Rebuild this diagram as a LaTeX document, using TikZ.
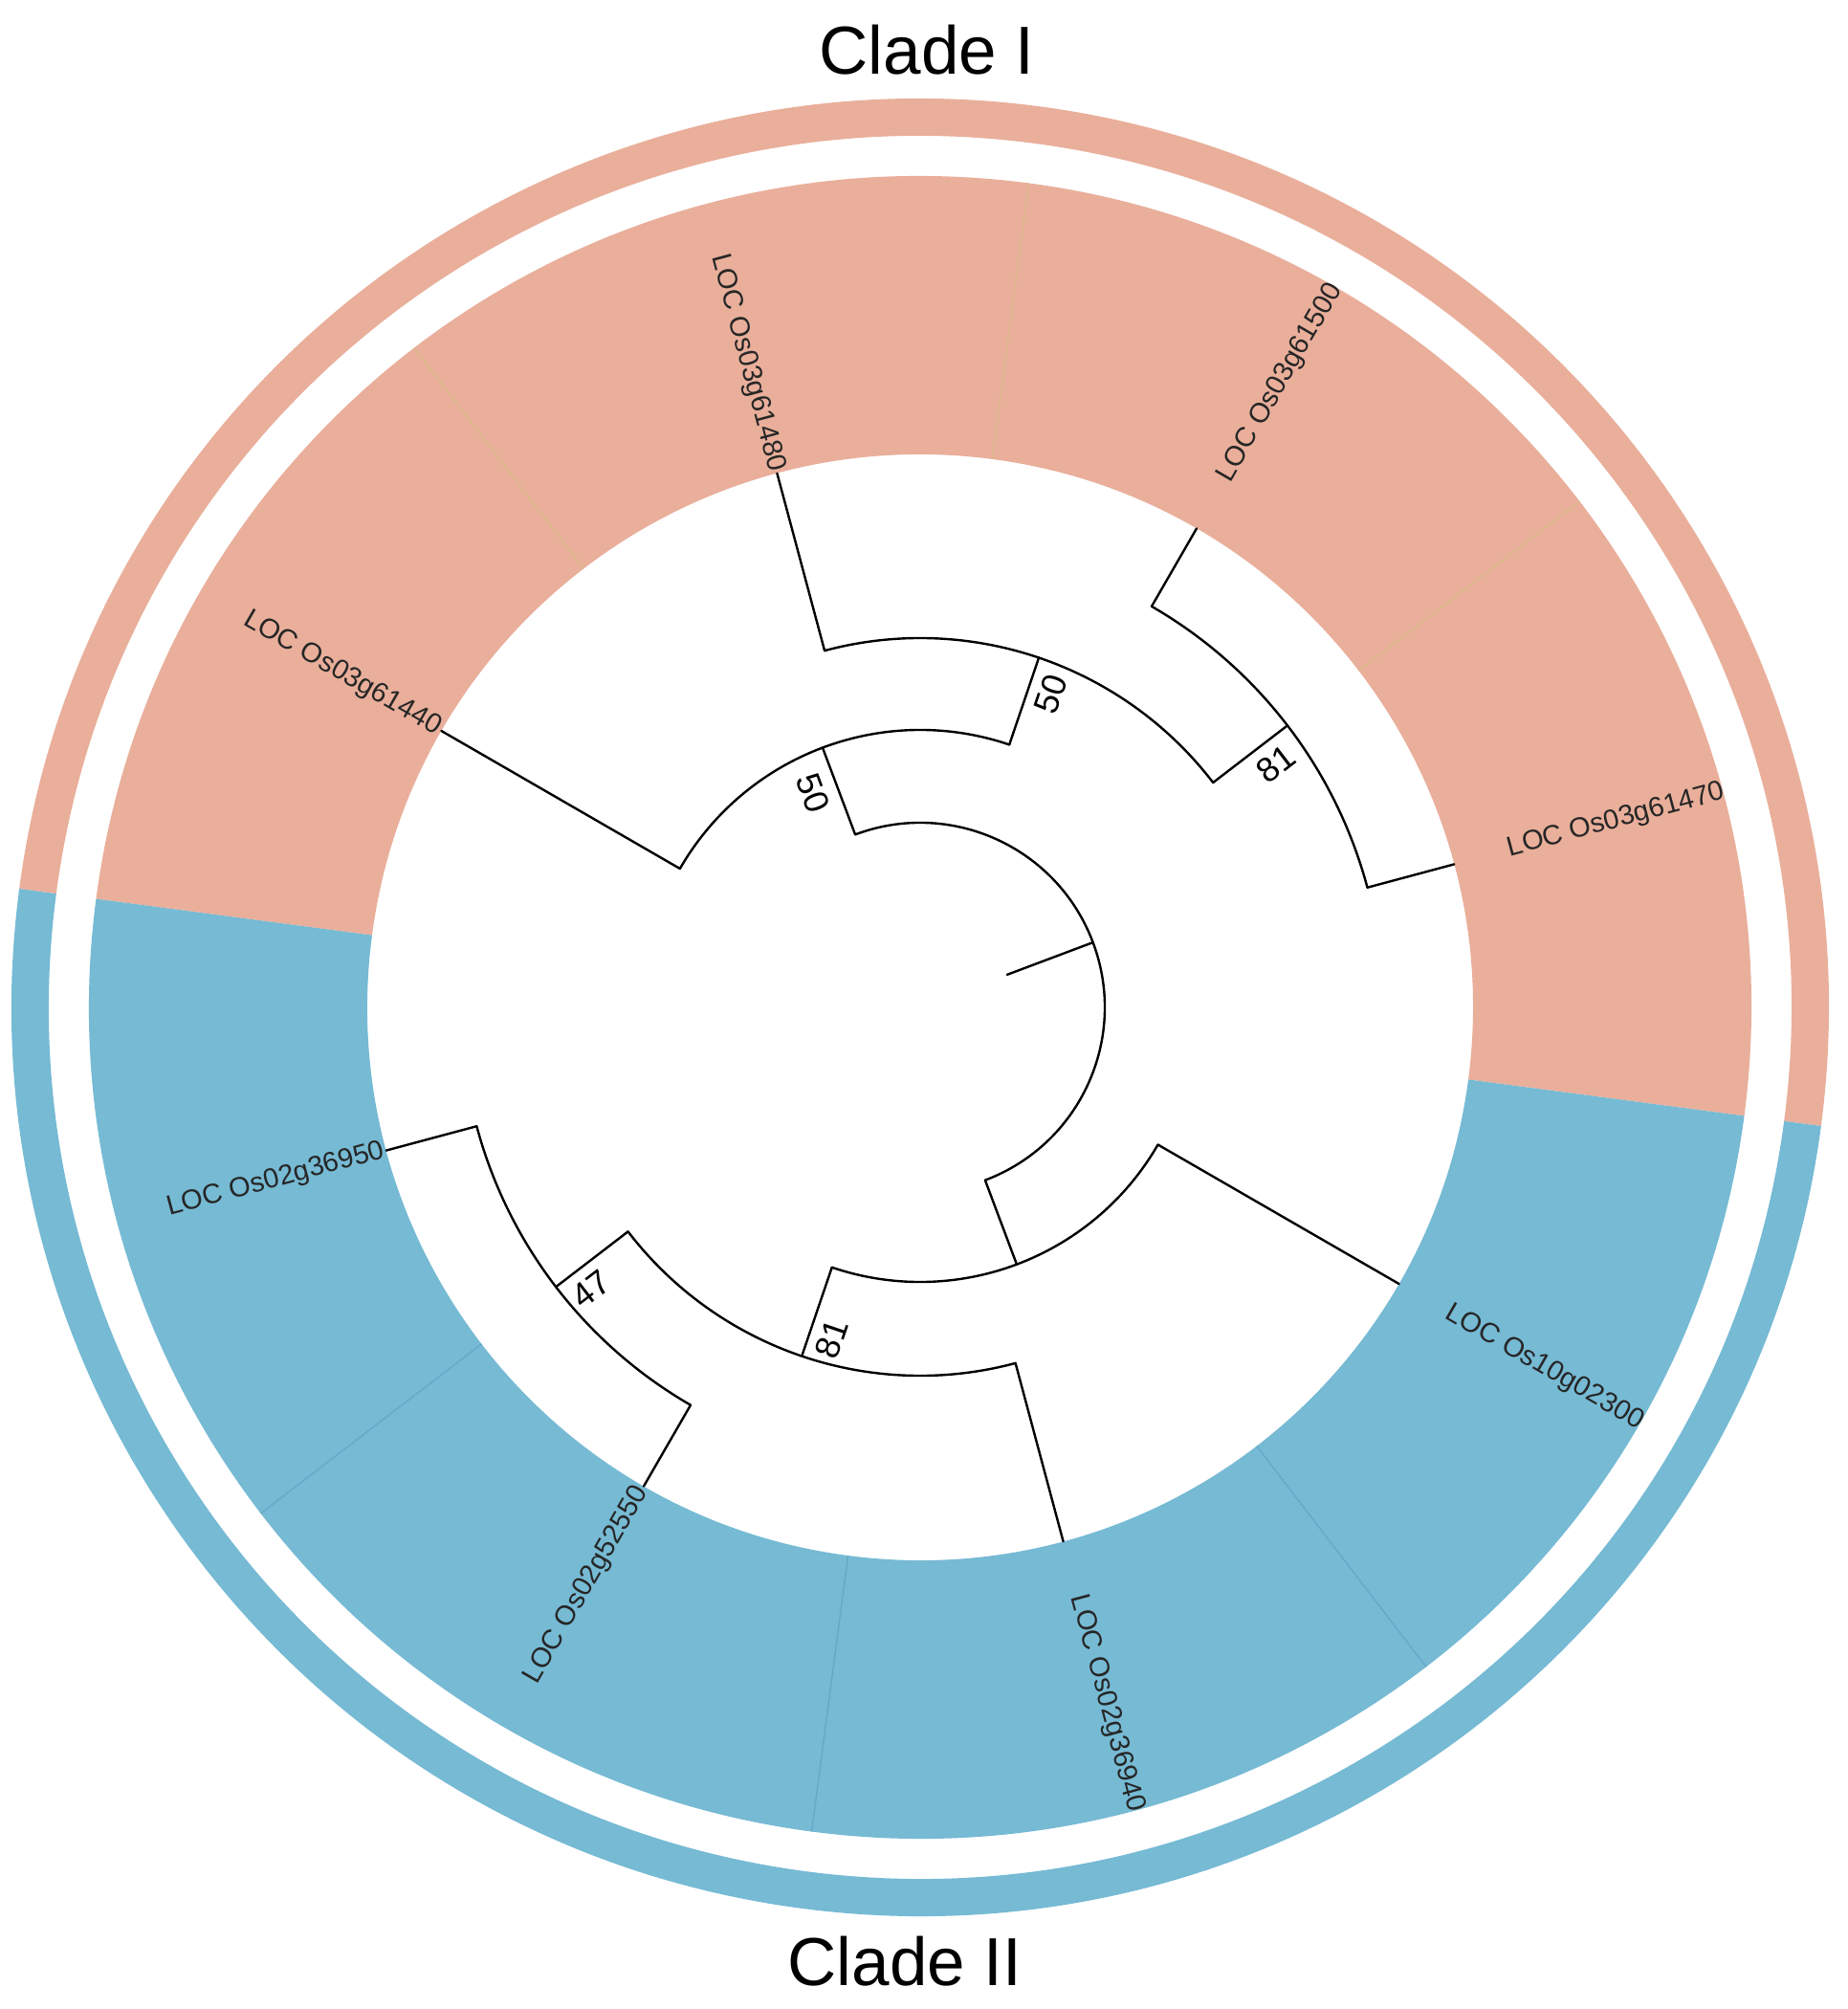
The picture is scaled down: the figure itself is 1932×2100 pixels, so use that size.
\documentclass[tikz,border=0pt]{standalone}
\usepackage{fontspec}
\setmainfont{Liberation Sans}
\definecolor{salmon}{RGB}{233,175,155}
\definecolor{cblue}{RGB}{118,186,212}
\definecolor{salmonline}{RGB}{220,184,138}
\definecolor{blueline}{RGB}{100,170,200}
\tikzset{
 branch/.style={line width=1.2pt, black, line cap=round, line join=miter},
 leaflabel/.style={font=\fontsize{14.5}{14.5}\selectfont, inner sep=1pt, text=black!85},
 boot/.style={font=\fontsize{18}{18}\selectfont, inner sep=0pt},
 clade/.style={font=\fontsize{35.5}{35.5}\selectfont, inner sep=0pt, anchor=base},
 sepline/.style={line width=0.7pt},
}
\begin{document}
\begin{tikzpicture}[x=0.5pt,y=0.5pt]
\useasboundingbox (-962,-1047) rectangle (970,1053);
\fill[white] (-962,-1047) rectangle (970,1053);

% outer clade ring
\fill[salmon] (-7.5:911) arc[start angle=-7.5,end angle=172.5,radius=455.5pt] -- (172.5:950) arc[start angle=172.5,end angle=-7.5,radius=475pt] -- cycle;
\fill[cblue] (172.5:911) arc[start angle=172.5,end angle=352.5,radius=455.5pt] -- (352.5:950) arc[start angle=352.5,end angle=172.5,radius=475pt] -- cycle;

% inner label band
\fill[salmon] (-7.5:578) arc[start angle=-7.5,end angle=172.5,radius=289pt] -- (172.5:869) arc[start angle=172.5,end angle=-7.5,radius=434.5pt] -- cycle;
\fill[cblue] (172.5:578) arc[start angle=172.5,end angle=352.5,radius=289pt] -- (352.5:869) arc[start angle=352.5,end angle=172.5,radius=434.5pt] -- cycle;

% sector separators
\foreach \a in {37.5,82.5,127.5} \draw[salmonline,sepline] (\a:578) -- (\a:869);
\foreach \a in {217.5,262.5,307.5} \draw[blueline,sepline] (\a:578) -- (\a:869);

% tree coordinates
\coordinate (r0) at (20.6:97);
\coordinate (r1) at (20.6:193);
\coordinate (rA) at (110.6:193);
\coordinate (rD) at (-69.4:193);
% clade I
\coordinate (A) at (110.6:290);
\coordinate (A1) at (71.25:290);
\coordinate (A2) at (150:290);
\coordinate (B0) at (71.25:386);
\coordinate (B1) at (37.5:386);
\coordinate (B2) at (105:386);
\coordinate (C0) at (37.5:484);
\coordinate (C1) at (15:484);
\coordinate (C2) at (60:484);
\coordinate (L61440) at (150:578);
\coordinate (L61480) at (105:578);
\coordinate (L61500) at (60:578);
\coordinate (L61470) at (15:578);
% clade II
\coordinate (D) at (-69.4:287);
\coordinate (D1) at (-108.75:287);
\coordinate (D2) at (-30:287);
\coordinate (E0) at (-108.75:385);
\coordinate (E1) at (-142.5:385);
\coordinate (E2) at (-75:385);
\coordinate (F0) at (-142.5:480);
\coordinate (F1) at (-165:480);
\coordinate (F2) at (-120:480);
\coordinate (L36950) at (-165:578);
\coordinate (L52550) at (-120:578);
\coordinate (L36940) at (-75:578);
\coordinate (L02300) at (-30:578);
% label anchors for right-hand labels (gap after the tip)
\coordinate (P61470) at (15:634);
\coordinate (P61500) at (60:634);
\coordinate (P36940) at (-75:634);
\coordinate (P02300) at (-30:634);

% root
\draw[branch] (r0) -- (r1);
\draw[branch] (rD) arc[start angle=-69.4,end angle=110.6,radius=96.5pt];
% clade I branches
\draw[branch] (rA) -- (A);
\draw[branch] (A1) arc[start angle=71.25,end angle=150,radius=145pt];
\draw[branch] (A2) -- (L61440);
\draw[branch] (A1) -- (B0);
\draw[branch] (B1) arc[start angle=37.5,end angle=105,radius=193pt];
\draw[branch] (B2) -- (L61480);
\draw[branch] (B1) -- (C0);
\draw[branch] (C1) arc[start angle=15,end angle=60,radius=242pt];
\draw[branch] (C2) -- (L61500);
\draw[branch] (C1) -- (L61470);
% clade II branches
\draw[branch] (rD) -- (D);
\draw[branch] (D1) arc[start angle=-108.75,end angle=-30,radius=143.5pt];
\draw[branch] (D2) -- (L02300);
\draw[branch] (D1) -- (E0);
\draw[branch] (E1) arc[start angle=-142.5,end angle=-75,radius=192.5pt];
\draw[branch] (E2) -- (L36940);
\draw[branch] (E1) -- (F0);
\draw[branch] (F1) arc[start angle=-165,end angle=-120,radius=240pt];
\draw[branch] (F1) -- (L36950);
\draw[branch] (F2) -- (L52550);

% bootstrap values
\node[boot, rotate=-69.4] (bA) at (116.5:250) {50};
\node[boot, rotate=71.25] (bB) at (67.4:355) {50};
\node[boot, rotate=37.5] (bC) at (34.4:451) {81};
\node[boot, rotate=71.25] (bE) at (255.1:359) {81};
\node[boot, rotate=37.5] (bF) at (220.6:453) {47};

% leaf labels
\node[leaflabel, anchor=west, rotate=15] (t61470) at (P61470) {LOC Os03g61470};
\node[leaflabel, anchor=west, rotate=60] (t61500) at (P61500) {LOC Os03g61500};
\node[leaflabel, anchor=east, rotate=-75] (t61480) at (L61480) {LOC Os03g61480};
\node[leaflabel, anchor=east, rotate=-30] (t61440) at (L61440) {LOC Os03g61440};
\node[leaflabel, anchor=east, rotate=15] (t36950) at (L36950) {LOC Os02g36950};
\node[leaflabel, anchor=east, rotate=60] (t52550) at (L52550) {LOC Os02g52550};
\node[leaflabel, anchor=west, rotate=-75] (t36940) at (P36940) {LOC Os02g36940};
\node[leaflabel, anchor=west, rotate=-30] (t02300) at (P02300) {LOC Os10g02300};

% clade titles
\node[clade] (cladeI) at (7,975) {Clade I};
\node[clade] (cladeII) at (-16,-1022) {Clade II};
\end{tikzpicture}
\end{document}
